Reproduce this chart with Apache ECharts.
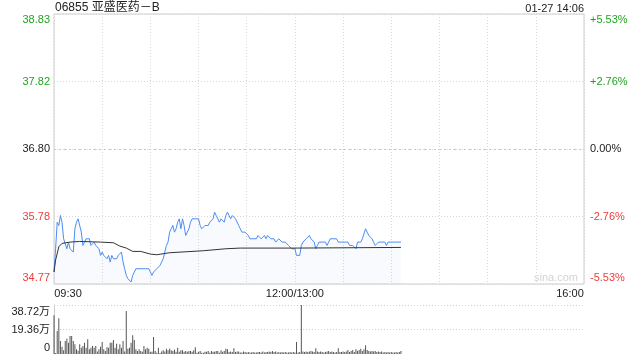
<!DOCTYPE html>
<html><head><meta charset="utf-8">
<script src="https://cdn.jsdelivr.net/npm/echarts@6/dist/echarts.min.js"></script>
<style>html,body{margin:0;padding:0;background:#fff}#c{width:640px;height:360px}</style>
</head><body><div id="c"></div>
<script>
// ---- data ----
const stockTitle = '06855 亚盛医药－B';
const stamp = '01-27 14:06';
const preClose = 36.80;
const priceMin = 34.77, priceMax = 38.83;
const priceTickLabels = ['34.77', '35.78', '36.80', '37.82', '38.83'];
const pctTickLabels = ['-5.53%', '-2.76%', '0.00%', '+2.76%', '+5.53%'];
const volMax = 38.72;
const volTickLabels = ['0', '19.36万', '38.72万'];
const sessionMinutes = 330;
const timeTickMinutes = [0, 150, 330];
const timeTickLabels = ['09:30', '12:00/13:00', '16:00'];

// minute-by-minute price from 09:30 (index 0) to 14:06
const price = [
34.95,35.30,35.70,35.65,35.80,35.70,35.45,35.45,35.30,35.40,
35.30,35.30,35.25,35.60,35.70,35.75,35.75,35.55,35.35,35.40,
35.45,35.45,35.45,35.35,35.35,35.40,35.35,35.35,35.30,35.20,
35.25,35.20,35.20,35.15,35.20,35.10,35.20,35.15,35.15,35.15,
35.20,35.20,35.25,35.10,35.00,34.90,34.85,34.85,34.80,34.90,
34.95,35.00,35.00,35.00,35.00,35.00,35.00,35.00,35.00,35.00,
35.00,34.90,34.95,34.95,35.00,35.00,35.05,35.10,35.15,35.15,
35.35,35.40,35.55,35.60,35.65,35.55,35.60,35.70,35.75,35.60,
35.75,35.65,35.50,35.55,35.60,35.70,35.75,35.75,35.75,35.75,
35.75,35.65,35.60,35.60,35.65,35.65,35.65,35.70,35.70,35.75,
35.85,35.80,35.80,35.70,35.75,35.75,35.70,35.80,35.85,35.80,
35.75,35.80,35.80,35.75,35.75,35.65,35.60,35.55,35.55,35.55,
35.55,35.50,35.45,35.45,35.45,35.45,35.45,35.50,35.50,35.45,
35.45,35.50,35.45,35.50,35.50,35.45,35.45,35.45,35.40,35.40,
35.45,35.45,35.40,35.40,35.40,35.40,35.35,35.35,35.30,35.30,
35.30,35.20,35.20,35.20,35.35,35.40,35.40,35.45,35.45,35.50,
35.45,35.45,35.40,35.30,35.35,35.40,35.40,35.40,35.40,35.40,
35.35,35.40,35.45,35.45,35.45,35.45,35.45,35.40,35.40,35.40,
35.40,35.40,35.40,35.40,35.35,35.35,35.35,35.35,35.30,35.40,
35.40,35.40,35.45,35.45,35.60,35.55,35.50,35.50,35.45,35.40,
35.35,35.35,35.40,35.40,35.40,35.40,35.40,35.35,35.40,35.40,
35.40,35.40,35.40,35.40,35.40,35.40,35.40
];

// average price line (minute, value) as read
const avgMinutes = [0, 1, 3, 5, 10, 16, 29, 37, 41, 45, 49, 54, 60, 64, 72, 93, 107, 116, 150, 216];
const avgPrice  = [34.95, 35.13, 35.33, 35.38, 35.40, 35.41, 35.40, 35.39, 35.34, 35.31, 35.26, 35.26, 35.22, 35.21, 35.24, 35.27, 35.30, 35.31, 35.31, 35.32];

// minute volume in 万 shares
const volume = [
30.6,0.8,18.2,28.2,10.3,5.8,3.0,10.3,12.1,8.9,
14.2,14.2,10.3,7.7,3.7,2.5,7.7,5.0,6.3,8.9,
5.0,11.6,3.7,5.0,6.3,5.0,6.3,2.0,3.7,5.8,
9.5,3.7,2.4,5.3,5.0,8.9,8.9,11.1,5.0,8.1,
3.7,7.7,5.0,10.3,2.0,34.0,4.2,5.0,8.9,14.8,
11.1,3.7,2.4,3.7,2.4,1.8,6.3,3.7,5.0,4.2,
1.8,1.8,13.4,2.4,1.0,5.0,0.8,2.0,2.9,2.0,
4.2,3.0,4.2,2.9,2.4,3.5,1.8,5.0,1.8,2.9,
2.9,1.8,2.4,1.8,2.4,2.4,1.8,2.9,5.3,1.0,
1.8,2.4,1.0,1.0,1.8,1.8,2.4,1.0,2.4,1.8,
1.8,2.4,2.4,1.0,2.9,1.8,2.4,4.2,3.7,1.6,
2.0,1.6,4.5,1.6,2.0,2.0,1.2,1.2,2.0,1.6,
1.2,1.6,1.2,1.2,1.6,1.2,1.2,1.6,1.6,1.2,
2.0,1.2,1.6,1.6,2.0,1.6,2.4,1.6,2.0,1.2,
1.6,1.2,1.6,1.2,1.6,1.2,1.2,1.6,1.2,1.6,
1.2,9.5,1.2,1.6,38.72,2.0,1.6,2.0,1.6,2.0,
2.4,2.0,1.6,4.5,2.0,1.6,2.0,1.6,1.2,1.6,
2.0,2.4,1.6,2.0,1.6,1.2,1.6,4.5,1.6,1.6,
2.0,1.6,2.0,3.2,1.6,2.4,3.2,1.6,3.7,2.4,
3.2,4.2,2.4,3.7,6.9,3.2,2.4,2.0,2.4,2.0,
2.4,1.6,2.0,1.6,2.0,1.2,1.6,1.2,1.6,1.2,
1.6,1.2,1.2,1.6,1.2,1.6,2.4
];

// ---- chart ----
const FONT = 'Arial, "Liberation Sans", "Noto Sans CJK SC", sans-serif';
const GREEN = '#22a322', RED = '#f03c3c', BLACK = '#222';
const rich = {
  gt: {color: GREEN, padding: [12, 0, 0, 0], fontSize: 11, fontFamily: FONT},
  g: {color: GREEN, fontSize: 11, fontFamily: FONT},
  k: {color: BLACK, fontSize: 11, fontFamily: FONT},
  r: {color: RED, fontSize: 11, fontFamily: FONT},
  rb: {color: RED, padding: [0, 0, 12, 0], fontSize: 11, fontFamily: FONT},
  kt: {color: BLACK, padding: [14, 0, 0, 0], fontSize: 11, fontFamily: FONT},
  kb: {color: BLACK, padding: [0, 0, 12, 0], fontSize: 11, fontFamily: FONT},
  xl: {color: BLACK, padding: [0, 0, 0, 28], fontSize: 11, fontFamily: FONT},
  xc: {color: BLACK, fontSize: 11, fontFamily: FONT},
  xr: {color: BLACK, padding: [0, 28, 0, 0], fontSize: 11, fontFamily: FONT}
};
const priceStyleByIdx = ['rb', 'r', 'k', 'g', 'gt'];
const volStyleByIdx = ['kb', 'k', 'kt'];
const xStyleByIdx = ['xl', 'xc', 'xr'];
const priceInterval = (priceMax - priceMin) / 4;

const chart = echarts.init(document.getElementById('c'), null, {renderer: 'canvas'});
chart.setOption({
  animation: false,
  backgroundColor: '#fff',
  textStyle: {fontFamily: FONT},
  title: [
    {text: stockTitle, left: 55, top: 2, padding: 0, textStyle: {fontSize: 12, fontWeight: 'normal', color: '#222', fontFamily: FONT}},
    {text: stamp, right: 56, top: 3, padding: 0, textStyle: {fontSize: 11, fontWeight: 'normal', color: '#222', fontFamily: FONT}}
  ],
  graphic: [{
    type: 'text', right: 62, top: 272, silent: true,
    style: {text: 'sina.com', fill: '#d4d4d4', font: '11px ' + FONT}
  }],
  grid: [
    {left: 54, right: 56, top: 14, height: 270, show: true, borderColor: '#cccccc', borderWidth: 1, backgroundColor: 'transparent'},
    {left: 54, right: 56, top: 305, height: 49, show: false}
  ],
  xAxis: [
    {
      type: 'value', gridIndex: 0, min: 0, max: sessionMinutes, interval: 30,
      axisLine: {show: false}, axisTick: {show: false},
      splitLine: {show: true, lineStyle: {color: '#d8d8d8', type: [1, 2]}},
      axisLabel: {
        margin: 4, showMinLabel: true, showMaxLabel: true,
        formatter: function (v) {
          const k = timeTickMinutes.indexOf(v);
          return k < 0 ? '' : '{' + xStyleByIdx[k] + '|' + timeTickLabels[k] + '}';
        },
        rich: rich
      }
    },
    {
      type: 'value', gridIndex: 1, min: 0, max: sessionMinutes, interval: 30,
      axisLine: {show: false}, axisTick: {show: false}, axisLabel: {show: false}, splitLine: {show: false}
    }
  ],
  yAxis: [
    {
      type: 'value', gridIndex: 0, position: 'left', min: priceMin, max: priceMax, interval: priceInterval,
      axisLine: {show: false}, axisTick: {show: false},
      splitLine: {show: true, lineStyle: {color: '#d8d8d8', type: [1, 2]}},
      axisLabel: {
        margin: 4, showMinLabel: true, showMaxLabel: true,
        formatter: function (v, i) { return '{' + priceStyleByIdx[i] + '|' + priceTickLabels[i] + '}'; },
        rich: rich
      }
    },
    {
      type: 'value', gridIndex: 0, position: 'right', min: priceMin, max: priceMax, interval: priceInterval,
      axisLine: {show: false}, axisTick: {show: false}, splitLine: {show: false},
      axisLabel: {
        margin: 6, showMinLabel: true, showMaxLabel: true,
        formatter: function (v, i) { return '{' + priceStyleByIdx[i] + '|' + pctTickLabels[i] + '}'; },
        rich: rich
      }
    },
    {
      type: 'value', gridIndex: 1, position: 'left', min: 0, max: volMax, interval: volMax / 2,
      axisLine: {show: true, lineStyle: {color: '#cccccc'}}, axisTick: {show: false},
      splitLine: {show: true, lineStyle: {color: ['rgba(0,0,0,0)', '#cfcfcf', '#cfcfcf'], type: [1, 2]}},
      axisLabel: {
        margin: 4, showMinLabel: true, showMaxLabel: true,
        formatter: function (v, i) { return '{' + volStyleByIdx[i] + '|' + volTickLabels[i] + '}'; },
        rich: rich
      }
    }
  ],
  series: [
    {
      type: 'line', xAxisIndex: 0, yAxisIndex: 0, symbol: 'none', silent: true,
      data: price.map((p, i) => [i, p]),
      lineStyle: {color: '#4d8cf2', width: 1},
      areaStyle: {color: 'rgba(90,140,240,0.06)', origin: 'start'},
      markLine: {
        silent: true, symbol: ['none', 'none'], label: {show: false},
        lineStyle: {color: '#c4c4c4', type: [2, 3], width: 1},
        data: [{yAxis: preClose}]
      }
    },
    {
      type: 'line', xAxisIndex: 0, yAxisIndex: 0, symbol: 'none', silent: true,
      data: avgMinutes.map((m, k) => [m, avgPrice[k]]),
      lineStyle: {color: '#333333', width: 1}
    },
    {
      type: 'bar', xAxisIndex: 1, yAxisIndex: 2, silent: true, barWidth: 1,
      data: volume.map((v, i) => [i, v]),
      itemStyle: {color: '#555555'}
    }
  ]
});
</script>
</body></html>
